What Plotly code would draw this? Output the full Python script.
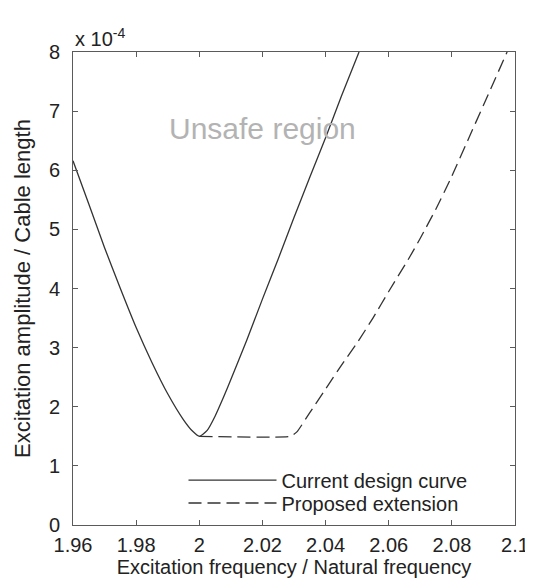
import plotly.graph_objects as go

# Data (y in units of 1e-4)
design_x = [1.96, 1.965, 1.97, 1.975, 1.98, 1.985, 1.99, 1.995, 1.998, 2.0,
            2.0025, 2.005, 2.0075, 2.01, 2.015, 2.02, 2.025, 2.03, 2.035, 2.04, 2.045, 2.0506]
design_y = [6.16, 5.43, 4.69, 4.0, 3.34, 2.75, 2.22, 1.78, 1.58, 1.5,
            1.6, 1.84, 2.14, 2.46, 3.12, 3.82, 4.5, 5.2, 5.88, 6.55, 7.25, 8.0]

ext_x = [2.0, 2.029, 2.031, 2.035, 2.04, 2.045, 2.05, 2.055, 2.06, 2.0665,
         2.07, 2.075, 2.08, 2.085, 2.09, 2.0975]
ext_y = [1.5, 1.5, 1.58, 1.9, 2.3, 2.7, 3.08, 3.5, 3.95, 4.52,
         4.85, 5.35, 5.9, 6.5, 7.1, 8.0]

x_ticks = [1.96, 1.98, 2.0, 2.02, 2.04, 2.06, 2.08, 2.1]
x_tick_labels = ["1.96", "1.98", "2", "2.02", "2.04", "2.06", "2.08", "2.1"]
y_ticks = [0, 1, 2, 3, 4, 5, 6, 7, 8]

FONT = "Liberation Sans, Arial, sans-serif"
LINE = "#333333"
TXT = "#222222"

fig = go.Figure()
fig.add_trace(go.Scatter(x=design_x, y=design_y, mode="lines",
                         name="Current design curve", legend="legend",
                         line=dict(color=LINE, width=1.3, shape="spline", smoothing=0.6)))
fig.add_trace(go.Scatter(x=ext_x, y=ext_y, mode="lines",
                         name="Proposed extension", legend="legend2",
                         line=dict(color=LINE, width=1.3, dash="13px,6px",
                                   shape="spline", smoothing=0.4)))

axis_common = dict(showgrid=False, zeroline=False, showline=True, linecolor="#5a5a5a",
                   linewidth=1, mirror="ticks", ticks="inside", ticklen=5,
                   tickcolor="#5a5a5a", tickfont=dict(family=FONT, size=20, color=TXT))

legend_common = dict(xanchor="left", yanchor="middle", bgcolor="rgba(0,0,0,0)",
                     borderwidth=0, font=dict(family=FONT, size=20, color=TXT),
                     itemwidth=88)

fig.update_layout(
    width=533, height=579,
    margin=dict(l=65, r=17, t=44, b=62),
    paper_bgcolor="white", plot_bgcolor="white",
    font=dict(family=FONT, size=20, color=TXT),
    xaxis=dict(range=[1.96, 2.1], tickvals=x_ticks, ticktext=x_tick_labels,
               ticklabelstandoff=2,
               title=dict(text="Excitation frequency / Natural frequency",
                          font=dict(family=FONT, size=20, color=TXT), standoff=4),
               **axis_common),
    yaxis=dict(range=[0, 8], tickvals=y_ticks, ticklabelstandoff=8,
               title=dict(text="Excitation amplitude / Cable length",
                          font=dict(family=FONT, size=22, color=TXT), standoff=12),
               **axis_common),
    legend=dict(x=0.25, y=0.095, **legend_common),
    legend2=dict(x=0.25, y=0.0465, **legend_common),
    showlegend=True,
    annotations=[
        dict(text="Unsafe region", x=2.0199, y=6.7, xref="x", yref="y",
             showarrow=False, font=dict(family=FONT, size=30, color="#b3b3b3")),
        dict(text="x 10<sup>-4</sup>", x=0, y=1.0, xref="paper", yref="paper",
             xanchor="left", yanchor="bottom", yshift=0, showarrow=False,
             font=dict(family=FONT, size=20, color=TXT)),
    ],
)

fig.write_html("out.html")
